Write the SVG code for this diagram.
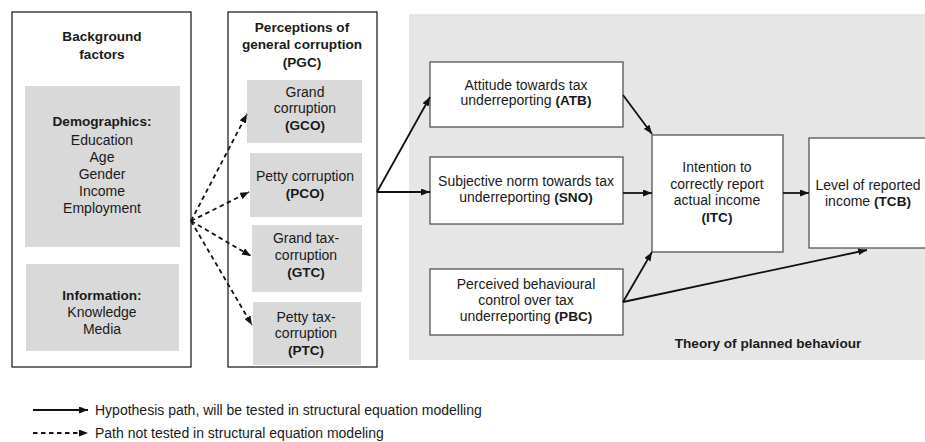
<svg xmlns="http://www.w3.org/2000/svg" width="925" height="442" viewBox="0 0 925 442">
<style>
text{font-family:"Liberation Sans",Arial,sans-serif;font-size:14px;fill:#1a1a1a;text-anchor:middle}
.b{font-weight:bold;font-size:13.6px}
.l{text-anchor:start}
.outer{fill:#fff;stroke:#111;stroke-width:1.2}
.grey{fill:#d9d9d9;stroke:none}
.box{fill:#fff;stroke:#555;stroke-width:1.3}
.sol{fill:none;stroke:#111;stroke-width:1.8;marker-end:url(#ah)}
.dsh{fill:none;stroke:#111;stroke-width:1.8;stroke-dasharray:4.5 3.5;marker-end:url(#ah)}
</style>
<defs>
<marker id="ah" markerUnits="userSpaceOnUse" markerWidth="9" markerHeight="7" refX="9" refY="3.5" orient="auto">
<path d="M0,0 L9,3.5 L0,7 z" fill="#111"/>
</marker>
</defs>
<rect x="409" y="14" width="520" height="346" fill="#e6e6e6"/>
<text class="b" x="768" y="348">Theory of planned behaviour</text>

<g id="background">
<rect class="outer" x="12" y="12" width="179" height="355"/>
<text class="b" x="102" y="41">Background</text>
<text class="b" x="102" y="59">factors</text>
</g>
<g id="demographics">
<rect class="grey" x="25" y="86" width="155" height="161"/>
<text class="b" x="102" y="126">Demographics:</text>
<text x="102" y="145">Education</text>
<text x="102" y="162">Age</text>
<text x="102" y="179">Gender</text>
<text x="102" y="196">Income</text>
<text x="102" y="213">Employment</text>
</g>
<g id="information">
<rect class="grey" x="26" y="264" width="153" height="87"/>
<text class="b" x="102" y="300">Information:</text>
<text x="102" y="317">Knowledge</text>
<text x="102" y="334">Media</text>
</g>

<g id="pgc">
<rect class="outer" x="228" y="12" width="149" height="355"/>
<text class="b" x="302" y="32">Perceptions of</text>
<text class="b" x="302" y="49">general corruption</text>
<text class="b" x="302" y="67">(PGC)</text>
</g>
<g id="gco">
<rect class="grey" x="247" y="80" width="115" height="63"/>
<text x="305" y="97">Grand</text>
<text x="305" y="113">corruption</text>
<text class="b" x="305" y="130">(GCO)</text>
</g>
<g id="pco">
<rect class="grey" x="250" y="153" width="112" height="64"/>
<text x="305" y="181">Petty corruption</text>
<text class="b" x="305" y="198">(PCO)</text>
</g>
<g id="gtc">
<rect class="grey" x="252" y="225" width="110" height="67"/>
<text x="306" y="243">Grand tax-</text>
<text x="306" y="260">corruption</text>
<text class="b" x="306" y="277">(GTC)</text>
</g>
<g id="ptc">
<rect class="grey" x="253" y="302" width="108" height="63"/>
<text x="306" y="322">Petty tax-</text>
<text x="306" y="338">corruption</text>
<text class="b" x="306" y="355">(PTC)</text>
</g>

<g id="atb">
<rect class="box" x="430" y="62" width="193" height="65"/>
<text x="526" y="90">Attitude towards tax</text>
<text x="526" y="105">underreporting <tspan class="b">(ATB)</tspan></text>
</g>
<g id="sno">
<rect class="box" x="430" y="157" width="193" height="67"/>
<text x="526" y="186">Subjective norm towards tax</text>
<text x="526" y="202">underreporting <tspan class="b">(SNO)</tspan></text>
</g>
<g id="pbc">
<rect class="box" x="430" y="269" width="193" height="66"/>
<text x="526" y="289">Perceived behavioural</text>
<text x="526" y="305">control over tax</text>
<text x="526" y="321">underreporting <tspan class="b">(PBC)</tspan></text>
</g>
<g id="itc">
<rect class="box" x="652" y="135" width="131" height="117"/>
<text x="717" y="172">Intention to</text>
<text x="717" y="189">correctly report</text>
<text x="717" y="205">actual income</text>
<text class="b" x="717" y="222">(ITC)</text>
</g>
<g id="tcb">
<rect class="box" x="809" y="138" width="120" height="110"/>
<text x="868" y="190">Level of reported</text>
<text x="868" y="206">income <tspan class="b">(TCB)</tspan></text>
</g>

<g id="connectors">
<path class="dsh" d="M191,221 L247,114"/>
<path class="dsh" d="M191,221 L249,192"/>
<path class="dsh" d="M191,221 L251,256"/>
<path class="dsh" d="M191,221 L252,325"/>
<path class="sol" d="M377,192 L430,97"/>
<path class="sol" d="M377,192 L430,192"/>
<path class="sol" d="M623,95 L652,134"/>
<path class="sol" d="M623,193 L652,193"/>
<path class="sol" d="M623,302 L652,252"/>
<path class="sol" d="M623,302 L867,250"/>
<path class="sol" d="M783,193 L809,193"/>
</g>

<g id="legend">
<path class="sol" d="M33,410 L88,410"/>
<text class="l" x="95" y="415">Hypothesis path, will be tested in structural equation modelling</text>
<path class="dsh" d="M33,433 L88,433"/>
<text class="l" x="95" y="438">Path not tested in structural equation modeling</text>
</g>
</svg>
